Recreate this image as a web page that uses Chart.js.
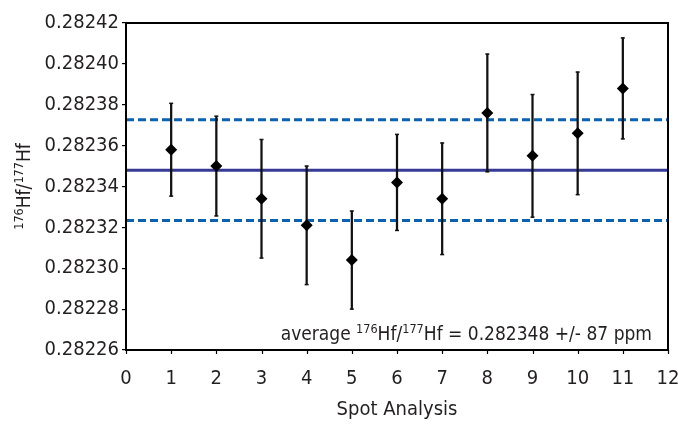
<!DOCTYPE html>
<html>
<head>
<meta charset="utf-8">
<script src="https://cdn.jsdelivr.net/npm/chart.js@4/dist/chart.umd.min.js"></script>
<style>
  html, body { margin: 0; padding: 0; background: #fff; }
</style>
</head>
<body>
<canvas id="results" width="678" height="427"></canvas>
<script>
// spot analyses and their 176Hf/177Hf ratios with the error bar half-widths
const spots = [1, 2, 3, 4, 5, 6, 7, 8, 9, 10, 11];
const ratios = [0.282358, 0.282350, 0.282334, 0.282321, 0.282304, 0.282342,
                0.282334, 0.282376, 0.282355, 0.282366, 0.282388];
const errors = [0.0000227, 0.0000244, 0.0000290, 0.0000290, 0.0000240, 0.0000235,
                0.0000273, 0.0000288, 0.0000300, 0.0000300, 0.0000247];

// weighted average and its +/- 87 ppm band
const average = 0.282348;
const band = [0.2823726, 0.2823234];

// axis ranges
const xRange = [0, 12];
const yRange = [0.28226, 0.28242];
const yStep = 0.00002;

const FONT = "'Liberation Sans Narrow', 'DejaVu Sans Condensed', 'Roboto Condensed', sans-serif";
const TEXT = '#231f20';

// draws text with superscript parts, parts = [[text, isSup], ...]
function richWidth(ctx, parts, size) {
  let w = 0;
  parts.forEach(p => {
    ctx.font = (p[1] ? size * 0.66 : size) + 'px ' + FONT;
    w += ctx.measureText(p[0]).width;
  });
  return w;
}

function drawRich(ctx, parts, x, y, size) {
  parts.forEach(p => {
    ctx.font = (p[1] ? size * 0.66 : size) + 'px ' + FONT;
    ctx.fillText(p[0], x, p[1] ? y - size * 0.36 : y);
    x += ctx.measureText(p[0]).width;
  });
}

const extras = {
  id: 'extras',
  afterDraw(chart) {
    let ctx = chart.ctx;
    let a = chart.chartArea;
    let xs = chart.scales.x;
    ctx.save();

    // frame round the plot
    ctx.strokeStyle = '#000';
    ctx.lineWidth = 2;
    ctx.strokeRect(a.left, a.top, a.right - a.left, a.bottom - a.top);

    // small ticks under the x axis
    ctx.lineWidth = 1.2;
    for (let v = xRange[0]; v <= xRange[1]; v++) {
      let px = Math.round(xs.getPixelForValue(v)) + 0.5;
      ctx.beginPath();
      ctx.moveTo(px, a.bottom);
      ctx.lineTo(px, a.bottom + 4);
      ctx.stroke();
    }

    ctx.fillStyle = TEXT;
    ctx.textBaseline = 'alphabetic';
    ctx.textAlign = 'left';

    // y axis title
    let title = [['176', true], ['Hf/', false], ['177', true], ['Hf', false]];
    let tw = richWidth(ctx, title, 19);
    ctx.save();
    ctx.translate(30, (a.top + a.bottom) / 2);
    ctx.rotate(-Math.PI / 2);
    drawRich(ctx, title, -tw / 2, 0, 19);
    ctx.restore();

    // note with the average value
    let note = [['average ', false], ['176', true], ['Hf/', false], ['177', true],
                ['Hf = 0.282348 +/- 87 ppm', false]];
    let nw = richWidth(ctx, note, 19);
    drawRich(ctx, note, 652 - nw, 340, 19);

    ctx.restore();
  }
};

function createChart() {
  let c = document.getElementById('results');
  let context = c.getContext('2d');

  let markers = spots.map((s, i) => ({ x: s, y: ratios[i] }));
  let bars = spots.map((s, i) => ({ x: s, y: [ratios[i] - errors[i], ratios[i] + errors[i]] }));
  let caps = [];
  spots.forEach((s, i) => {
    caps.push({ x: s, y: ratios[i] - errors[i] });
    caps.push({ x: s, y: ratios[i] + errors[i] });
  });
  let flat = y => [{ x: xRange[0], y: y }, { x: xRange[1], y: y }];

  new Chart(context, {
    type: 'scatter',
    data: {
      datasets: [
        {
          type: 'line',
          data: flat(average),
          borderColor: '#363a94',
          borderWidth: 3,
          pointRadius: 0,
          order: 5
        },
        {
          type: 'line',
          data: flat(band[0]),
          borderColor: '#0a62b0',
          borderWidth: 3,
          borderDash: [8, 4],
          pointRadius: 0,
          order: 5
        },
        {
          type: 'line',
          data: flat(band[1]),
          borderColor: '#0a62b0',
          borderWidth: 3,
          borderDash: [8, 4],
          pointRadius: 0,
          order: 5
        },
        {
          type: 'bar',
          data: bars,
          backgroundColor: '#111',
          barThickness: 1.6,
          order: 3
        },
        {
          data: caps,
          pointStyle: 'line',
          radius: 2,
          borderColor: '#111',
          borderWidth: 1.5,
          order: 2
        },
        {
          data: markers,
          pointStyle: 'rectRot',
          radius: 6,
          backgroundColor: '#000',
          borderColor: '#000',
          borderWidth: 0,
          order: 1
        }
      ]
    },
    options: {
      responsive: false,
      animation: false,
      layout: { padding: { top: 23, right: 10, left: 0, bottom: 0 } },
      plugins: {
        legend: { display: false },
        tooltip: { enabled: false }
      },
      scales: {
        x: {
          type: 'linear',
          offset: false,
          min: xRange[0],
          max: xRange[1],
          grid: { display: false, offset: false },
          border: { display: false },
          ticks: {
            stepSize: 1,
            padding: 9,
            color: TEXT,
            font: { family: FONT, size: 20 }
          },
          title: {
            display: true,
            text: 'Spot Analysis',
            color: TEXT,
            padding: { top: 4, bottom: 5 },
            font: { family: FONT, size: 20 }
          },
          afterFit: scale => {
            scale.height = 77;
            scale.paddingLeft = 0;
            scale.paddingRight = 0;
          }
        },
        y: {
          type: 'linear',
          min: yRange[0],
          max: yRange[1],
          beginAtZero: false,
          grid: { drawOnChartArea: false, drawTicks: true, tickLength: 4, color: '#000', lineWidth: 1.2 },
          border: { display: false },
          ticks: {
            stepSize: yStep,
            padding: 3,
            color: TEXT,
            font: { family: FONT, size: 20 },
            callback: v => v.toFixed(5)
          },
          afterFit: scale => {
            scale.width = 126;
            scale.paddingTop = 0;
            scale.paddingBottom = 0;
          }
        }
      }
    },
    plugins: [extras]
  });
}

createChart();
</script>
</body>
</html>
